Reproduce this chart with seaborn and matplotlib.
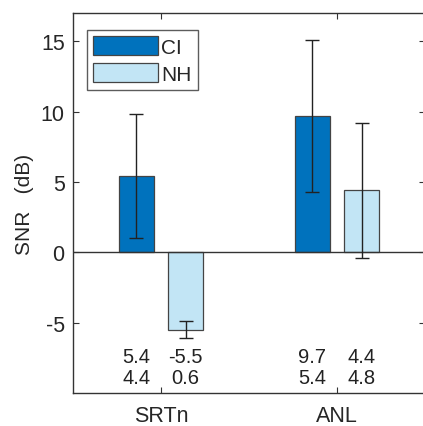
import matplotlib
matplotlib.use("Agg")
import matplotlib.pyplot as plt
import seaborn as sns
import pandas as pd

# data
measures = ["SRTn", "ANL"]
groups = ["CI", "NH"]
ci_mean = [5.4, 9.7]
nh_mean = [-5.5, 4.4]
ci_sd = [4.4, 5.4]
nh_sd = [0.6, 4.8]

df = pd.DataFrame({
    "measure": measures * 2,
    "group": ["CI"] * 2 + ["NH"] * 2,
    "mean": ci_mean + nh_mean,
    "sd": ci_sd + nh_sd,
})

sns.set_style("white")
plt.rcParams["font.family"] = ["Liberation Sans", "DejaVu Sans"]
plt.rcParams["axes.unicode_minus"] = False

fig = plt.figure(figsize=(4.23, 4.27), dpi=100)
ax = fig.add_axes([73 / 423, 33 / 427, 352 / 423, 380 / 427])

palette = {"CI": "#0072BD", "NH": "#C2E5F5"}
sns.barplot(data=df, x="measure", y="mean", hue="group", order=measures,
            hue_order=groups, palette=palette, width=0.56, gap=0.29,
            edgecolor="#444444", linewidth=0.9, errorbar=None, saturation=1,
            ax=ax)

# error bars + value labels, from bar positions
sds = {"CI": ci_sd, "NH": nh_sd}
means = {"CI": ci_mean, "NH": nh_mean}
for cont, g in zip(ax.containers, groups):
    for j, bar in enumerate(cont):
        xc = bar.get_x() + bar.get_width() / 2
        ax.errorbar(xc, means[g][j], yerr=sds[g][j], fmt="none",
                    ecolor="#222222", elinewidth=1.0, capsize=4.7,
                    capthick=1.0, zorder=5)
        ax.text(xc, -7.4, f"{means[g][j]:.1f}", ha="center", va="center",
                fontsize=14.5, color="#222222")
        ax.text(xc, -8.9, f"{sds[g][j]:.1f}", ha="center", va="center",
                fontsize=14.5, color="#222222")

ax.axhline(0, color="#333333", linewidth=1.0, zorder=4)

ax.set_ylim(-10, 17)
ax.set_xlim(-0.5, 1.5)
ax.set_yticks([-5, 0, 5, 10, 15])
ax.set_ylabel("SNR   (dB)", fontsize=15, labelpad=5)
ax.set_xlabel("")
ax.tick_params(axis="both", labelsize=15.5, direction="in", length=4,
               color="#333333", top=True, right=True, left=True, bottom=True)
ax.tick_params(axis="x", pad=9)
ax.tick_params(axis="y", pad=6)
for s in ax.spines.values():
    s.set_color("#333333")
    s.set_linewidth(1.0)

leg = ax.legend(loc="upper left", fontsize=15, frameon=True, fancybox=False,
                edgecolor="#333333", handlelength=3.1, handleheight=1.0,
                handletextpad=0.15, borderpad=0.3, labelspacing=0.3,
                borderaxespad=0, bbox_to_anchor=(0.04, 0.955))
leg.get_frame().set_linewidth(1.0)

fig.savefig("out.png", dpi=100)
